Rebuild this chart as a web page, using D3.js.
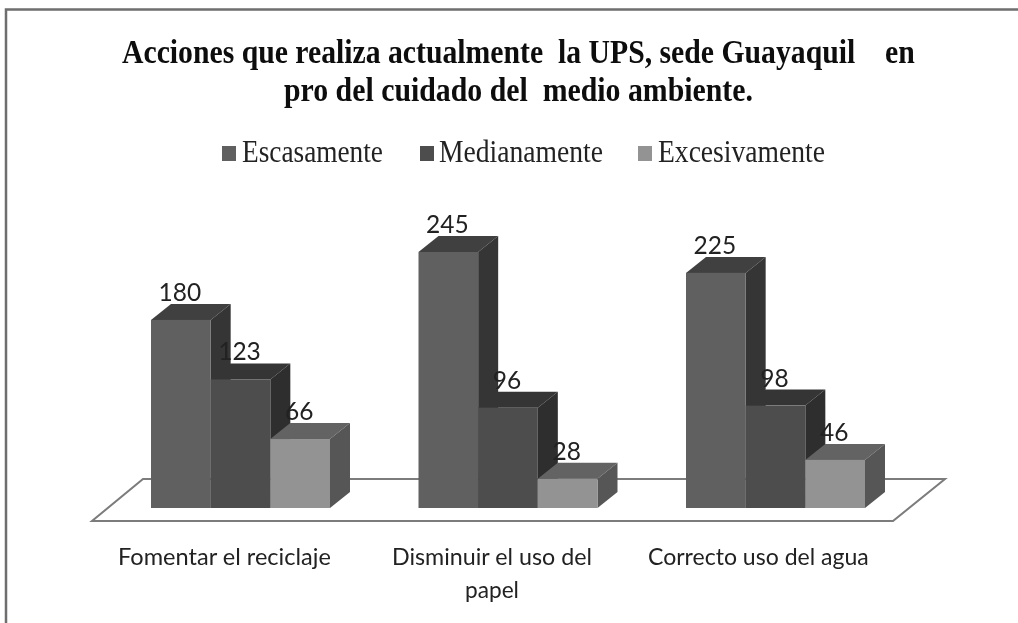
<!DOCTYPE html>
<html>
<head>
<meta charset="utf-8">
<script src="https://cdn.jsdelivr.net/npm/d3@7"></script>
<style>
  html, body { margin: 0; background: #fff; }
  svg { display: block; }
</style>
</head>
<body>
<div id="chart"></div>
<script>
// Values
var categories = ["Fomentar el reciclaje", "Disminuir el uso del papel", "Correcto uso del agua"];
var seriesNames = ["Escasamente", "Medianamente", "Excesivamente"];
var escasamente = [180, 245, 225];
var medianamente = [123, 96, 98];
var excesivamente = [66, 28, 46];
var titleLines = ["Acciones que realiza actualmente  la UPS, sede Guayaquil    en", "pro del cuidado del  medio ambiente."];

var allSeries = [escasamente, medianamente, excesivamente];
var frontColors = ["#606060", "#4e4e4e", "#939393"];
var topColors = ["#414141", "#363636", "#646464"];
var sideColors = ["#353535", "#2d2d2d", "#565656"];

var width = 1018, height = 623;
var depthX = 20, depthY = 16; // the fake 3d offset of every bar

var svg = d3.select("#chart")
  .append("svg")
  .attr("width", width)
  .attr("height", height);

// The original is a soft scan, so blur everything a little
svg.append("filter")
  .attr("id", "soft")
  .attr("x", 0).attr("y", 0)
  .attr("width", width).attr("height", height)
  .attr("filterUnits", "userSpaceOnUse")
  .append("feGaussianBlur")
  .attr("stdDeviation", 0.55);

var root = svg.append("g").attr("filter", "url(#soft)");

root.append("rect")
  .attr("width", width).attr("height", height)
  .attr("fill", "#fff");

// Frame of the picture: only the top and the left side are visible
root.append("path")
  .attr("d", d3.line()([[6, height], [6, 9.5], [width, 9.5]]))
  .attr("fill", "none")
  .attr("stroke", "#6e6e6e")
  .attr("stroke-width", 2.5);

// Squeeze a text sideways until it is as wide as in the original
function squeeze(sel, xs, widths, ys) {
  sel.each(function(d, i) {
    var natural = this.getComputedTextLength();
    d3.select(this).attr("transform",
      "translate(" + xs[i] + "," + ys[i] + ") scale(" + (widths[i] / natural) + ",1)");
  });
}

// Title
var title = root.selectAll(".title")
  .data(titleLines)
  .enter()
  .append("text")
  .attr("class", "title")
  .style("white-space", "pre")
  .style("font-family", "'Liberation Serif'")
  .style("font-weight", "bold")
  .style("font-size", "34px")
  .style("fill", "#0c0c0c")
  .text(function(d) { return d; });
squeeze(title, [122, 284], [793, 469], [63, 101]);

// Legend
var legendX = [222, 420, 638];
var legendTextX = [242, 439, 658];
var legendTextW = [141, 164, 167];
var legend = root.selectAll(".legend")
  .data(seriesNames)
  .enter()
  .append("g")
  .attr("class", "legend");

legend.append("rect")
  .attr("x", function(d, i) { return legendX[i]; })
  .attr("y", 146)
  .attr("width", 14)
  .attr("height", 15)
  .attr("fill", function(d, i) { return frontColors[i]; });

var legendText = legend.append("text")
  .style("font-family", "'Liberation Serif'")
  .style("font-size", "32px")
  .style("fill", "#222")
  .text(function(d) { return d; });
squeeze(legendText, legendTextX, legendTextW, [162, 162, 162]);

// Scales
var x0 = d3.scalePoint()
  .domain(d3.range(categories.length))
  .range([17, 552]);

var groupScale = d3.scaleBand()
  .domain(d3.range(seriesNames.length))
  .range([134, 313]);

var y = d3.scaleLinear()
  .domain([0, 245])
  .range([508, 252]);

// Floor
var floorPts = [[92, 521], [893, 521], [945, 479], [143, 479]];
root.append("path")
  .attr("d", d3.line()(floorPts) + "Z")
  .attr("fill", "#fff")
  .attr("stroke", "#7b7b7b")
  .attr("stroke-width", 2);

// Bars, left to right so each one covers the side of the previous one
categories.forEach(function(cat, c) {
  var g = root.append("g");
  allSeries.forEach(function(values, s) {
    var x1 = x0(c) + groupScale(s);
    var w = groupScale.bandwidth();
    var top = y(values[c]);
    var base = y(0);

    g.append("path")
      .attr("d", d3.line()([[x1, top], [x1 + depthX, top - depthY], [x1 + w + depthX, top - depthY], [x1 + w, top]]) + "Z")
      .attr("fill", topColors[s]);
    g.append("path")
      .attr("d", d3.line()([[x1 + w, top], [x1 + w + depthX, top - depthY], [x1 + w + depthX, base - depthY], [x1 + w, base]]) + "Z")
      .attr("fill", sideColors[s]);
    g.append("rect")
      .attr("x", x1)
      .attr("y", top)
      .attr("width", w)
      .attr("height", base - top)
      .attr("fill", frontColors[s]);
  });

  // Data labels go on top of all the bars of the group
  allSeries.forEach(function(values, s) {
    g.append("text")
      .attr("x", x0(c) + groupScale(s) + groupScale.bandwidth() / 2 - 1)
      .attr("y", y(values[c]) - depthY - 3)
      .attr("text-anchor", "middle")
      .style("font-family", "Lato")
      .style("font-size", "24.5px")
      .style("fill", "#222")
      .text(values[c]);
  });
});

// Category labels, wrapped by hand like in the original
var labelLines = [["Fomentar el reciclaje"], ["Disminuir el uso del", "papel"], ["Correcto uso del agua"]];
var labelX = [[118], [392, 465], [648]];
var labelW = [[213], [200, 54], [221]];
labelLines.forEach(function(lines, c) {
  var labels = root.selectAll(".label" + c)
    .data(lines)
    .enter()
    .append("text")
    .attr("class", "label" + c)
    .style("font-family", "Lato")
    .style("font-size", "24px")
    .style("fill", "#222")
    .text(function(d) { return d; });
  squeeze(labels, labelX[c], labelW[c], [565, 598]);
});
</script>
</body>
</html>
